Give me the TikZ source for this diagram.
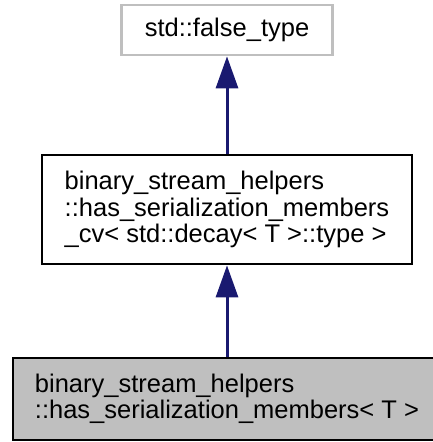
\documentclass[tikz,border=0pt]{standalone}
\usepackage{fontspec}
\setmainfont{Liberation Sans}
\usetikzlibrary{arrows.meta}
\usetikzlibrary{shapes}
\definecolor{edgeblue}{RGB}{25,25,112}
\definecolor{boxgray}{RGB}{191,191,191}

\begin{document}
\begin{tikzpicture}[x = 1pt, y = -1pt, font=\fontsize{25.5}{26.5}\selectfont]
	\tikzstyle{classStyle}=[shape = rectangle, draw, line width = 2.7pt, align = left, inner sep = 0pt]
	\tikzstyle{externStyle}=[classStyle, draw = boxgray, minimum width = 211pt, minimum height = 50pt]
	\tikzstyle{baseStyle}=[classStyle, minimum width = 370pt, minimum height = 109pt]
	\tikzstyle{currentStyle}=[classStyle, fill = boxgray, minimum width = 428pt, minimum height = 82pt]
	\tikzstyle{inheritStyle}=[color = edgeblue, line width = 3pt, arrows = {-Triangle[length = 32pt, width = 22pt]}]
	\useasboundingbox (0,0) rectangle (432,442);
	\node[externStyle] (falsetype) at (227, 30) {std::false\_type};
	\node[baseStyle] (membersCv) at (227, 209.5) {binary\_stream\_helpers\\::has\_serialization\_members\\\_cv< std::decay< T >::type >};
	\node[currentStyle] (members) at (227, 399) {binary\_stream\_helpers\\::has\_serialization\_members< T >};
	\draw[inheritStyle] (membersCv.north) -- (falsetype.south);
	\draw[inheritStyle] (members.north) -- (membersCv.south);
\end{tikzpicture}
\end{document}
